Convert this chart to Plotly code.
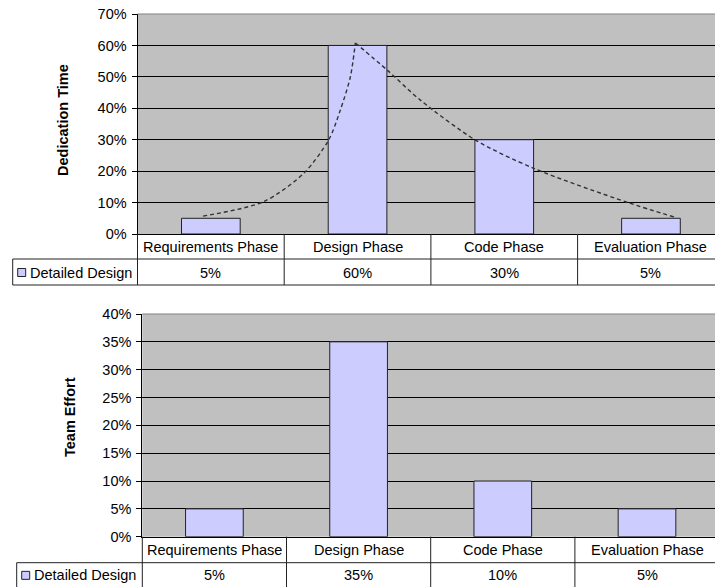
import plotly.graph_objects as go

# ---- data ----
phases = ["Requirements Phase", "Design Phase", "Code Phase", "Evaluation Phase"]
series_name = "Detailed Design"
dedication_time = [0.05, 0.60, 0.30, 0.05]
team_effort = [0.05, 0.35, 0.10, 0.05]

# hand-drawn trend curve over the dedication chart (rising and falling parts),
# x in phase-slot units (0 = first phase centre)
trend_up_x = [-0.053, 0.36, 0.633, 0.803, 0.883, 0.951, 0.985]
trend_up_y = [0.057, 0.103, 0.193, 0.299, 0.395, 0.50, 0.608]
trend_down_x = [0.985, 1.201, 1.428, 1.803, 2.20, 2.837, 3.166]
trend_down_y = [0.608, 0.522, 0.426, 0.299, 0.209, 0.101, 0.053]

# ---- style ----
W, H = 715, 587
FONT = "Liberation Sans, Arial, sans-serif"
FS = 14.5
BAR_FILL = "#CCCCFF"
BAR_LINE = "#222222"
PLOT_BG = "#C0C0C0"
LINE = "#222222"

slots = list(range(len(phases)))


def px(x):
    return x / W


def py(y):
    return 1 - y / H


# pixel geometry of the two panels
top = dict(left=137.5, top=14, bottom=234, row1=259, row2=285, key_left=12.7, slot=146.7)
bot = dict(left=142.3, top=314, bottom=536.7, row1=562.7, row2=590, key_left=16.7, slot=144.2)

fig = go.Figure()

fig.add_trace(go.Bar(x=slots, y=dedication_time, width=0.4, xaxis="x", yaxis="y",
                     marker=dict(color=BAR_FILL, line=dict(color=BAR_LINE, width=1)),
                     name=series_name, showlegend=False, hoverinfo="skip"))
for tx, ty in ((trend_up_x, trend_up_y), (trend_down_x, trend_down_y)):
    fig.add_trace(go.Scatter(x=tx, y=ty, mode="lines", xaxis="x", yaxis="y",
                             line=dict(color="#333333", width=1.4, dash="4px,3px",
                                       shape="spline", smoothing=0.8),
                             showlegend=False, hoverinfo="skip"))
fig.add_trace(go.Bar(x=slots, y=team_effort, width=0.4, xaxis="x2", yaxis="y2",
                     marker=dict(color=BAR_FILL, line=dict(color=BAR_LINE, width=1)),
                     name=series_name, showlegend=False, hoverinfo="skip"))


def xaxis_cfg(g, anchor):
    right = -0.5 + (W - g["left"]) / g["slot"]
    return dict(domain=[px(g["left"]), 1], range=[-0.5, right], anchor=anchor,
                type="linear", showticklabels=False, ticks="", showgrid=False,
                zeroline=False, automargin=False,
                showline=True, linecolor="#000000", linewidth=1, fixedrange=True)


def yaxis_cfg(g, anchor, ymax, step):
    return dict(domain=[py(g["bottom"]), py(g["top"])], range=[0, ymax], anchor=anchor,
                dtick=step, tick0=0, tickformat=".0%", showgrid=True,
                gridcolor="#000000", gridwidth=1, zeroline=False, automargin=False,
                showline=True, linecolor="#000000", linewidth=1,
                ticks="outside", ticklen=5, tickcolor="#000000",
                tickfont=dict(family=FONT, size=FS, color="#000000"),
                ticklabelstandoff=2, fixedrange=True)


shapes = []
annotations = []


def panel(g, xref, values, title, title_x, title_y):
    # top border of the plot area
    shapes.append(dict(type="line", xref="paper", yref="paper", x0=px(g["left"]), x1=1,
                       y0=py(g["top"]), y1=py(g["top"]), line=dict(color="#808080", width=1)))
    # data table under the axis
    for yy in (g["row1"], g["row2"]):
        shapes.append(dict(type="line", xref="paper", yref="paper", x0=px(g["key_left"]), x1=1,
                           y0=py(yy), y1=py(yy), line=dict(color=LINE, width=1)))
    shapes.append(dict(type="line", xref="paper", yref="paper", x0=px(g["key_left"]),
                       x1=px(g["key_left"]), y0=py(g["row1"]), y1=py(g["row2"]),
                       line=dict(color=LINE, width=1)))
    shapes.append(dict(type="line", xref="paper", yref="paper", x0=px(g["left"]),
                       x1=px(g["left"]), y0=py(g["bottom"]), y1=py(g["row2"]),
                       line=dict(color=LINE, width=1)))
    for b in (0.5, 1.5, 2.5):
        shapes.append(dict(type="line", xref=xref, yref="paper", x0=b, x1=b,
                           y0=py(g["bottom"]), y1=py(g["row2"]), line=dict(color=LINE, width=1)))
    mid1 = (g["bottom"] + g["row1"]) / 2
    mid2 = (g["row1"] + min(g["row2"], H)) / 2 + 0.5
    for i, name, v in zip(slots, phases, values):
        annotations.append(dict(xref=xref, yref="paper", x=i, y=py(mid1), text=name,
                                showarrow=False, xanchor="center", yanchor="middle",
                                font=dict(family=FONT, size=FS, color="#000000")))
        annotations.append(dict(xref=xref, yref="paper", x=i, y=py(mid2), text=f"{v:.0%}",
                                showarrow=False, xanchor="center", yanchor="middle",
                                font=dict(family=FONT, size=FS, color="#000000")))
    # legend key and series label
    kx = g["key_left"] + 5
    shapes.append(dict(type="rect", xref="paper", yref="paper", x0=px(kx), x1=px(kx + 8),
                       y0=py(mid2 - 4), y1=py(mid2 + 4),
                       fillcolor=BAR_FILL, line=dict(color=BAR_LINE, width=1)))
    annotations.append(dict(xref="paper", yref="paper", x=px(kx + 10), y=py(mid2),
                            text=series_name, showarrow=False, xanchor="left", yanchor="middle",
                            font=dict(family=FONT, size=FS, color="#000000")))
    # rotated axis title
    annotations.append(dict(xref="paper", yref="paper", x=px(title_x), y=py(title_y),
                            text=f"<b>{title}</b>", textangle=-90, showarrow=False,
                            xanchor="center", yanchor="middle",
                            font=dict(family=FONT, size=FS, color="#000000")))


panel(top, "x", dedication_time, "Dedication Time", 63, 120)
panel(bot, "x2", team_effort, "Team Effort", 70, 417)

fig.update_layout(
    width=W, height=H,
    margin=dict(l=0, r=0, t=0, b=0, autoexpand=False),
    paper_bgcolor="#FFFFFF",
    plot_bgcolor=PLOT_BG,
    xaxis=xaxis_cfg(top, "y"),
    yaxis=yaxis_cfg(top, "x", 0.7, 0.1),
    xaxis2=xaxis_cfg(bot, "y2"),
    yaxis2=yaxis_cfg(bot, "x2", 0.4, 0.05),
    shapes=shapes,
    annotations=annotations,
    showlegend=False,
)

fig.write_html("out.html", config={"displayModeBar": False})
